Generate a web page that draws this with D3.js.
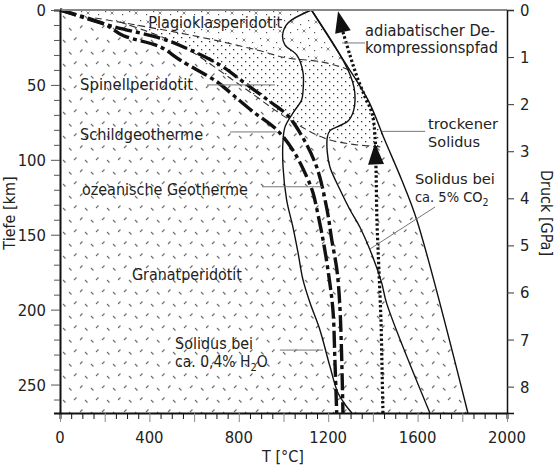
<!DOCTYPE html>
<html>
<head>
<meta charset="utf-8">
<script src="https://cdn.jsdelivr.net/npm/d3@7"></script>
<style>
  body { margin: 0; background: #fff; }
  svg text { font-family: "DejaVu Sans Condensed", "DejaVu Sans", sans-serif; fill: #222; }
</style>
</head>
<body>
<svg id="chart"></svg>
<script>
// T [°C] vs depth [km]
let tempTicks = [0, 400, 800, 1200, 1600, 2000];
let depthTicks = [0, 50, 100, 150, 200, 250];
let pressureTicks = [0, 1, 2, 3, 4, 5, 6, 7, 8];

// geotherms
let oceanicT = [0, 237, 447, 550, 716, 819, 940, 1016, 1074, 1148, 1195, 1216, 1239, 1253, 1266];
let oceanicD = [0, 11, 18.7, 24.5, 36.7, 47.9, 61.2, 70, 82, 104.6, 133.5, 153.5, 173.6, 200, 269];
let shieldT = [0, 200, 282, 447, 537, 702, 774, 864, 970, 1042, 1104, 1132, 1150, 1177, 1199, 1221, 1230, 1238];
let shieldD = [0, 9.5, 17, 24.5, 33.4, 47.9, 56.7, 67.9, 80, 93.5, 111.3, 122, 133.5, 153.5, 173.6, 200, 233.6, 269];

// solidus curves
let drySolT = [1125, 1253, 1378, 1453, 1529, 1596, 1825];
let drySolD = [0, 30, 60, 86.8, 113.5, 140, 269];
let co2SolT = [1125, 1253, 1300, 1316, 1320, 1314, 1290, 1240, 1208, 1196, 1196, 1208, 1253, 1298, 1342, 1400, 1439, 1462, 1655];
let co2SolD = [0, 30, 44, 52, 60, 67, 74, 78, 80.5, 85, 95, 105, 120, 133.5, 145, 165, 182, 196, 269];
let h2oSolT = [1125, 1020, 996, 1007, 1059, 1087, 1087, 1081, 1042, 1007, 998, 998, 1014, 1042, 1065, 1087, 1119, 1163, 1208, 1244, 1284, 1306];
let h2oSolD = [0, 8.7, 16.7, 23.4, 30, 41.4, 54.7, 60, 68.8, 78, 86.8, 104.8, 126.8, 144.8, 162, 180, 195.6, 213.6, 238, 255.7, 265, 269];

// adiabatic decompression path
let adiabatT = [1266, 1297, 1329, 1365, 1396, 1409, 1414, 1418, 1427, 1436, 1441, 1445];
let adiabatD = [14.7, 30, 44.7, 58, 68.8, 83.4, 106.8, 140, 173.6, 207, 240, 269];

// phase boundaries
let plagSpT = [157, 340, 626, 881, 1015, 1163, 1253, 1293];
let plagSpD = [5.3, 10, 18, 26.7, 32, 34.4, 37.8, 40];
let spGtT = [268, 537, 805, 1029, 1208, 1445];
let spGtD = [8, 23.4, 50, 73.4, 86.8, 91.5];

let width = 560, height = 469;
let margin = {top: 10, right: 53, bottom: 56, left: 60};
let T0 = 0, T1 = 2000, D1 = 269, P1 = 8.56;

let svg = d3.select("#chart").attr("width", width).attr("height", height);

let x = d3.scaleLinear().domain([T0, T1]).range([margin.left, width - margin.right]);
let y = d3.scaleLinear().domain([0, D1]).range([margin.top, height - margin.bottom]);
let yP = d3.scaleLinear().domain([0, P1]).range([margin.top, height - margin.bottom]);

let zip = (ts, ds) => ts.map((t, i) => [t, ds[i]]);
let line = d3.line().x(d => x(d[0])).y(d => y(d[1])).curve(d3.curveCatmullRom.alpha(0.5));
let lineLin = d3.line().x(d => x(d[0])).y(d => y(d[1]));

let dry = zip(drySolT, drySolD);
let plagSp = zip(plagSpT, plagSpD);
let spGt = zip(spGtT, spGtD);

// fill patterns
let defs = svg.append("defs");
let pDash = defs.append("pattern").attr("id", "dash").attr("patternUnits", "userSpaceOnUse")
  .attr("width", 22).attr("height", 24);
[[3, 4, 1], [14, 4, -1], [8, 16, -1], [19, 16, 1]].forEach(d => {
  pDash.append("line").attr("x1", d[0]).attr("y1", d[1]).attr("x2", d[0] + 2.5).attr("y2", d[1] + 2.5 * d[2])
    .attr("stroke", "#6a6a6a").attr("stroke-width", 1.1);
});
let pDots = defs.append("pattern").attr("id", "dots").attr("patternUnits", "userSpaceOnUse")
  .attr("width", 8).attr("height", 8);
[[1, 1], [5, 5]].forEach(d => {
  pDots.append("rect").attr("x", d[0]).attr("y", d[1]).attr("width", 1.3).attr("height", 1.3).attr("fill", "#333");
});
let pCross = defs.append("pattern").attr("id", "cross").attr("patternUnits", "userSpaceOnUse")
  .attr("width", 24).attr("height", 18);
[[4, 4], [16, 13]].forEach(d => {
  pCross.append("path").attr("d", `M${d[0]-1.5},${d[1]-1.5}L${d[0]+1.5},${d[1]+1.5}M${d[0]+1.5},${d[1]-1.5}L${d[0]-1.5},${d[1]+1.5}`)
    .attr("stroke", "#777").attr("stroke-width", 0.9);
});
[[12, 6], [2, 14], [20, 2], [9, 11], [21, 9]].forEach(d => {
  pCross.append("rect").attr("x", d[0]).attr("y", d[1]).attr("width", 1.2).attr("height", 1.2).attr("fill", "#555");
});

// regions
svg.append("rect").attr("x", x(T0)).attr("y", y(0)).attr("width", x(T1) - x(T0)).attr("height", y(D1) - y(0))
  .attr("fill", "url(#dash)");

let spinelPoly = plagSp.concat(dry.filter(d => d[1] > 40 && d[1] < 91.5)).concat(spGt.slice().reverse());
svg.append("path").attr("d", lineLin(spinelPoly) + "Z").attr("fill", "#fff");
svg.append("path").attr("d", lineLin(spinelPoly) + "Z").attr("fill", "url(#dots)");

let plagPoly = [[0, 0], [1125, 0]].concat(dry.filter(d => d[1] > 0 && d[1] < 40)).concat(plagSp.slice().reverse());
svg.append("path").attr("d", lineLin(plagPoly) + "Z").attr("fill", "#fff");
svg.append("path").attr("d", lineLin(plagPoly) + "Z").attr("fill", "url(#cross)");

let meltPoly = dry.concat([[T1, D1], [T1, 0]]);
svg.append("path").attr("d", lineLin(meltPoly) + "Z").attr("fill", "#fff");

// phase boundaries
[plagSp, spGt].forEach(pts => {
  svg.append("path").attr("d", line(pts)).attr("fill", "none")
    .attr("stroke", "#333").attr("stroke-width", 1.1).attr("stroke-dasharray", "7,4");
});

// solidus curves
[dry, zip(co2SolT, co2SolD), zip(h2oSolT, h2oSolD)].forEach(pts => {
  svg.append("path").attr("d", line(pts)).attr("fill", "none")
    .attr("stroke", "#111").attr("stroke-width", 1.4);
});

// geotherms
[zip(oceanicT, oceanicD), zip(shieldT, shieldD)].forEach(pts => {
  svg.append("path").attr("d", line(pts)).attr("fill", "none")
    .attr("stroke", "#111").attr("stroke-width", 3.4).attr("stroke-dasharray", "17,4,4,4");
});

// adiabat
let adiabat = zip(adiabatT, adiabatD);
svg.append("path").attr("d", line(adiabat)).attr("fill", "none")
  .attr("stroke", "#111").attr("stroke-width", 3.2).attr("stroke-dasharray", "2.4,2.4");

// arrowheads on the adiabat
let arrowTips = [[1244, 0.8], [1409, 89]];
let arrowDirs = [[1266, 14.7], [1414, 103]];
arrowTips.forEach((tip, i) => {
  let tx = x(tip[0]), ty = y(tip[1]);
  let bx = x(arrowDirs[i][0]), by = y(arrowDirs[i][1]);
  let dx = tx - bx, dy = ty - by, len = Math.hypot(dx, dy);
  let nx = -dy / len * 8, ny = dx / len * 8;
  svg.append("path").attr("d", `M${tx},${ty}L${bx + nx},${by + ny}L${bx - nx},${by - ny}Z`).attr("fill", "#111");
});

// axes frame
svg.append("line").attr("x1", x(T0)).attr("x2", x(T1)).attr("y1", y(0)).attr("y2", y(0))
  .attr("stroke", "#888").attr("stroke-width", 2);

let xAxis = svg.append("g").attr("transform", `translate(0,${y(D1)})`)
  .call(d3.axisBottom(x).tickValues(d3.range(0, 2001, 50)).tickSize(6).tickFormat(""));
xAxis.selectAll(".tick line").attr("stroke", d => d % 200 === 0 ? "#888" : "#111").attr("y2", d => d % 200 === 0 ? 9 : 6);
xAxis.select(".domain").attr("stroke", "#111").attr("stroke-width", 2);
svg.append("g").selectAll("text").data(tempTicks).join("text")
  .attr("x", d => x(d)).attr("y", y(D1) + 30).attr("text-anchor", "middle").attr("font-size", 16.5).text(d => d);

let yAxis = svg.append("g").attr("transform", `translate(${x(T0)},0)`)
  .call(d3.axisLeft(y).tickValues(d3.range(0, 261, 10)).tickSize(6).tickFormat(""));
yAxis.selectAll(".tick line").attr("stroke", "#555").attr("x2", d => d % 50 === 0 ? -9 : -6);
yAxis.select(".domain").attr("stroke", "#111").attr("stroke-width", 2);
svg.append("g").selectAll("text").data(depthTicks).join("text")
  .attr("x", x(T0) - 14).attr("y", d => y(d) + 6).attr("text-anchor", "end").attr("font-size", 16.5).text(d => d);

let pAxis = svg.append("g").attr("transform", `translate(${x(T1)},0)`)
  .call(d3.axisRight(yP).tickValues(pressureTicks).tickSize(7).tickFormat(""));
pAxis.selectAll(".tick line").attr("stroke", "#333");
pAxis.select(".domain").attr("stroke", "#111").attr("stroke-width", 1.5);
svg.append("g").selectAll("text").data(pressureTicks).join("text")
  .attr("x", x(T1) + 13).attr("y", d => yP(d) + 6).attr("text-anchor", "start").attr("font-size", 16.5).text(d => d);

// axis titles
svg.append("text").attr("transform", `translate(15,213) rotate(-90)`).attr("text-anchor", "middle")
  .attr("font-size", 16).text("Tiefe [km]");
svg.append("text").attr("transform", `translate(541,213) rotate(90)`).attr("text-anchor", "middle")
  .attr("font-size", 16).text("Druck [GPa]");
svg.append("text").attr("x", 283).attr("y", 462).attr("text-anchor", "middle").attr("font-size", 16).text("T [°C]");

// labels: [text, T, depth, textLength, size]
let labels = [
  ["Plagioklasperidotit", 395, 12.2, 134, 15.5],
  ["Spinellperidotit", 90, 53.4, 113, 15.5],
  ["Schildgeotherme", 90, 86.8, 123, 15.5],
  ["ozeanische Geotherme", 98, 123.5, 166, 15.5],
  ["Granatperidotit", 322, 180.2, 110, 15.5],
  ["Solidus bei", 515, 226.3, 78, 15.5],
  ["adiabatischer De-", 1365, 17.6, 130, 15],
  ["kompressionspfad", 1365, 29, 133, 15],
  ["trockener", 1647, 79.6, 70, 14.5],
  ["Solidus", 1647, 91.4, 52, 14.5],
  ["Solidus bei", 1588, 116.4, 80, 14.5]
];
labels.forEach(l => {
  svg.append("text").attr("x", x(l[1])).attr("y", y(l[2])).attr("font-size", l[4])
    .attr("textLength", l[3]).attr("lengthAdjust", "spacingAndGlyphs").text(l[0]);
});
let h2o = svg.append("text").attr("x", x(515)).attr("y", y(238.3)).attr("font-size", 15.5);
h2o.append("tspan").text("ca. 0,4% H");
h2o.append("tspan").attr("dy", 4).attr("font-size", 11).text("2");
h2o.append("tspan").attr("dy", -4).text("O");
let co2 = svg.append("text").attr("x", x(1588)).attr("y", y(128)).attr("font-size", 14.5);
co2.append("tspan").text("ca. 5% CO");
co2.append("tspan").attr("dy", 4).attr("font-size", 10.5).text("2");

// leader lines: [T1, D1, T2, D2]
let leaders = [
  [658, 50, 962, 50],
  [761, 81.4, 970, 81.4],
  [904, 118, 1172, 118],
  [984, 227, 1177, 227],
  [1262, 22, 1365, 22],
  [1441, 81, 1634, 81],
  [1387, 159.5, 1678, 131.5]
];
svg.append("g").selectAll("line").data(leaders).join("line")
  .attr("x1", d => x(d[0])).attr("y1", d => y(d[1])).attr("x2", d => x(d[2])).attr("y2", d => y(d[3]))
  .attr("stroke", "#777").attr("stroke-width", 1);
</script>
</body>
</html>
